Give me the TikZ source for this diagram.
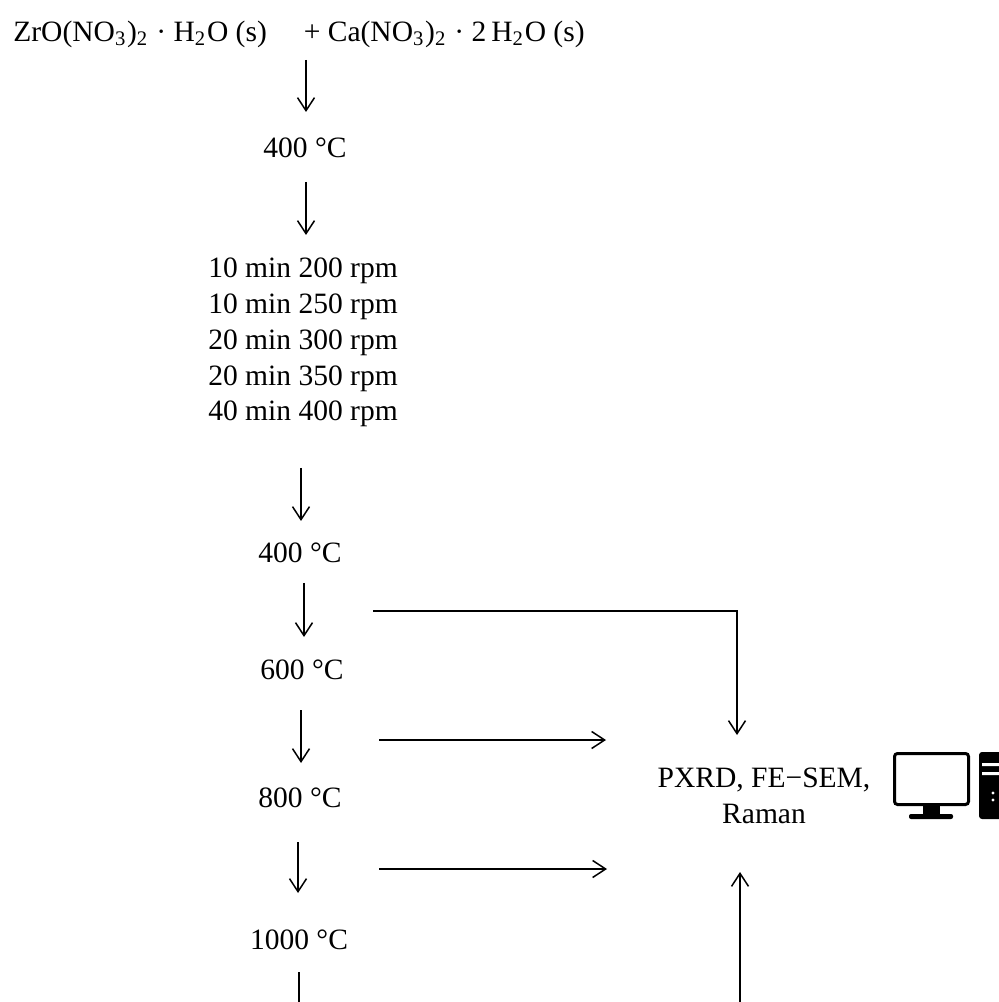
\documentclass[tikz,border=0pt]{standalone}
\usepackage{fontspec}
\setmainfont{Liberation Serif}
\usetikzlibrary{arrows.meta}

\begin{document}
\begin{tikzpicture}[x=0.1mm, y=-0.1mm, line width=0.15mm,
    >={Straight Barb[length=1.3mm,width=1.7mm]},
    every node/.style={inner sep=0pt, font=\fontsize{8.4}{10.24}\selectfont},
    lbl/.style={anchor=base, align=center}]
    \useasboundingbox (0,0) rectangle (998,1002);
    \node[lbl] (react) at (299,42) {ZrO(NO\textsubscript{3})\textsubscript{2}\ ·\ H\textsubscript{2}O (s)\quad\ +\ Ca(NO\textsubscript{3})\textsubscript{2} · 2\,H\textsubscript{2}O (s)};
    \node[lbl] (t400a) at (305,158) {400 °C};
    \node[lbl] (mill) at (303,421) {10 min 200 rpm\\10 min 250 rpm\\20 min 300 rpm\\20 min 350 rpm\\40 min 400 rpm};
    \node[lbl] (t400b) at (300,563) {400 °C};
    \node[lbl] (t600) at (302,679) {600 °C};
    \node[lbl] (t800) at (300,807) {800 °C};
    \node[lbl] (t1000) at (299,949) {1000 °C};
    \node[lbl] (anal) at (764,823) {PXRD, FE−SEM,\\Raman};
    \coordinate (a1) at (306,60);  \coordinate (b1) at (306,112);
    \coordinate (a2) at (306,182); \coordinate (b2) at (306,235);
    \coordinate (a3) at (301,468); \coordinate (b3) at (301,521);
    \coordinate (a4) at (304,583); \coordinate (b4) at (304,637);
    \coordinate (a5) at (301,710); \coordinate (b5) at (301,763);
    \coordinate (a6) at (298,842); \coordinate (b6) at (298,893);
    \coordinate (a7) at (299,972); \coordinate (b7) at (299,1010);
    \coordinate (h1) at (373,611); \coordinate (k1) at (737,735);
    \coordinate (h2) at (379,740); \coordinate (k2) at (606,740);
    \coordinate (h3) at (379,869); \coordinate (k3) at (607,869);
    \coordinate (u1) at (740,1010); \coordinate (v1) at (740,872);
    \draw[->] (a1) -- (b1);
    \draw[->] (a2) -- (b2);
    \draw[->] (a3) -- (b3);
    \draw[->] (a4) -- (b4);
    \draw[->] (a5) -- (b5);
    \draw[->] (a6) -- (b6);
    \draw (a7) -- (b7);
    \draw[->] (h1) -| (k1);
    \draw[->] (h2) -- (k2);
    \draw[->] (h3) -- (k3);
    \draw[->] (u1) -- (v1);
    \begin{scope}[shift={(893,752)}]
        \coordinate (pc) at (0,0);
        \draw[line width=0.3mm, rounded corners=0.3mm] (1.5,1.5) rectangle (75.5,52.5);
        \fill (30,54) rectangle (47,63);
        \fill[rounded corners=0.2mm] (16,62) rectangle (60,67);
        \fill[rounded corners=0.3mm] (86,0) rectangle (120,67);
        \fill[white] (89,11) rectangle (120,14)
                     (89,20) rectangle (120,23)
                     (100,41) circle (1.6)
                     (100,48) circle (1.6);
    \end{scope}
\end{tikzpicture}
\end{document}
